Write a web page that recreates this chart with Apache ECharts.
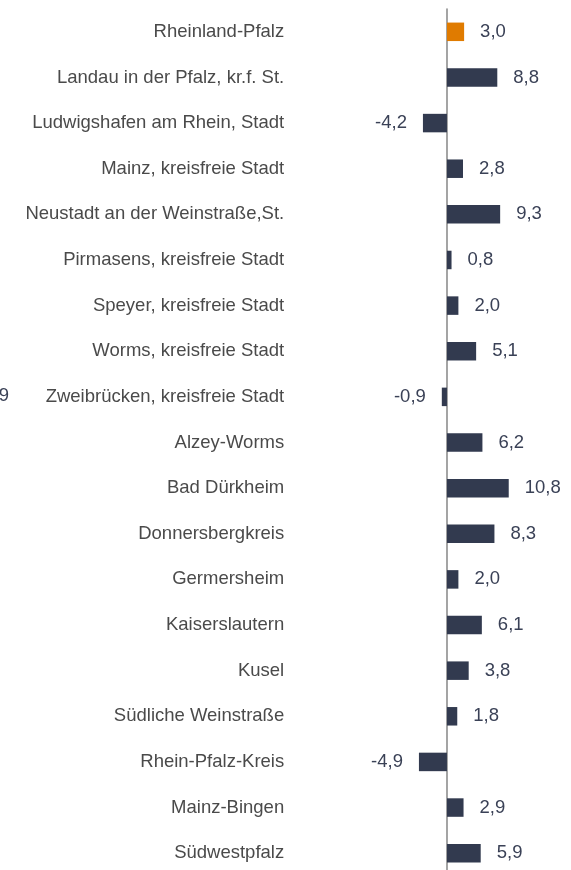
<!DOCTYPE html>
<html>
<head>
<meta charset="utf-8">
<script src="https://cdn.jsdelivr.net/npm/echarts@6/dist/echarts.min.js"></script>
<style>
  html, body { margin: 0; padding: 0; background: #ffffff; }
  #chart { width: 571px; height: 870px; }
</style>
</head>
<body>
<div id="chart"></div>
<script>
// Regions of Rheinland-Pfalz, top to bottom
const regions = [
  'Rheinland-Pfalz',
  'Landau in der Pfalz, kr.f. St.',
  'Ludwigshafen am Rhein, Stadt',
  'Mainz, kreisfreie Stadt',
  'Neustadt an der Weinstraße,St.',
  'Pirmasens, kreisfreie Stadt',
  'Speyer, kreisfreie Stadt',
  'Worms, kreisfreie Stadt',
  'Zweibrücken, kreisfreie Stadt',
  'Alzey-Worms',
  'Bad Dürkheim',
  'Donnersbergkreis',
  'Germersheim',
  'Kaiserslautern',
  'Kusel',
  'Südliche Weinstraße',
  'Rhein-Pfalz-Kreis',
  'Mainz-Bingen',
  'Südwestpfalz'
];

// Change in percent
const changes = [3.0, 8.8, -4.2, 2.8, 9.3, 0.8, 2.0, 5.1, -0.9, 6.2, 10.8, 8.3, 2.0, 6.1, 3.8, 1.8, -4.9, 2.9, 5.9];

const COLOR_STATE = '#e07b00';
const COLOR_REGION = '#323a4f';
const LABEL_COLOR = '#3a4156';
const FONT = '"Liberation Sans", Arial, sans-serif';

const fmt = v => v.toFixed(1).replace('.', ',');

const barData = changes.map((v, i) => ({
  value: v,
  itemStyle: { color: i === 0 ? COLOR_STATE : COLOR_REGION },
  label: { position: v < 0 ? 'left' : 'right' }
}));

const chart = echarts.init(document.getElementById('chart'), null, { renderer: 'canvas' });

chart.setOption({
  animation: false,
  backgroundColor: '#ffffff',
  textStyle: { fontFamily: FONT },
  grid: {
    left: 401.2, right: 55.4, top: 9, height: 867,
    containLabel: false,
    outerBoundsMode: 'none'
  },
  xAxis: {
    type: 'value',
    min: -8,
    max: 12,
    show: false,
    splitLine: { show: false }
  },
  yAxis: {
    type: 'category',
    data: regions,
    inverse: true,
    axisLine: { show: true, onZero: true, lineStyle: { color: '#8e8e8e', width: 1.6 } },
    axisTick: { show: false },
    axisLabel: {
      margin: 117,
      color: '#4a4a4a',
      fontSize: 18.5,
      fontFamily: FONT
    }
  },
  series: [{
    type: 'bar',
    data: barData,
    barWidth: 18.5,
    z: 1,
    label: {
      show: true,
      distance: 16,
      color: LABEL_COLOR,
      fontSize: 18.5,
      fontFamily: FONT,
      formatter: p => fmt(p.value)
    }
  }],
  graphic: [{
    type: 'text',
    x: 9,
    y: 396,
    style: {
      text: fmt(changes[8]),
      textAlign: 'right',
      textVerticalAlign: 'middle',
      fill: LABEL_COLOR,
      fontSize: 18.5,
      fontFamily: FONT
    }
  }]
});
</script>
</body>
</html>
